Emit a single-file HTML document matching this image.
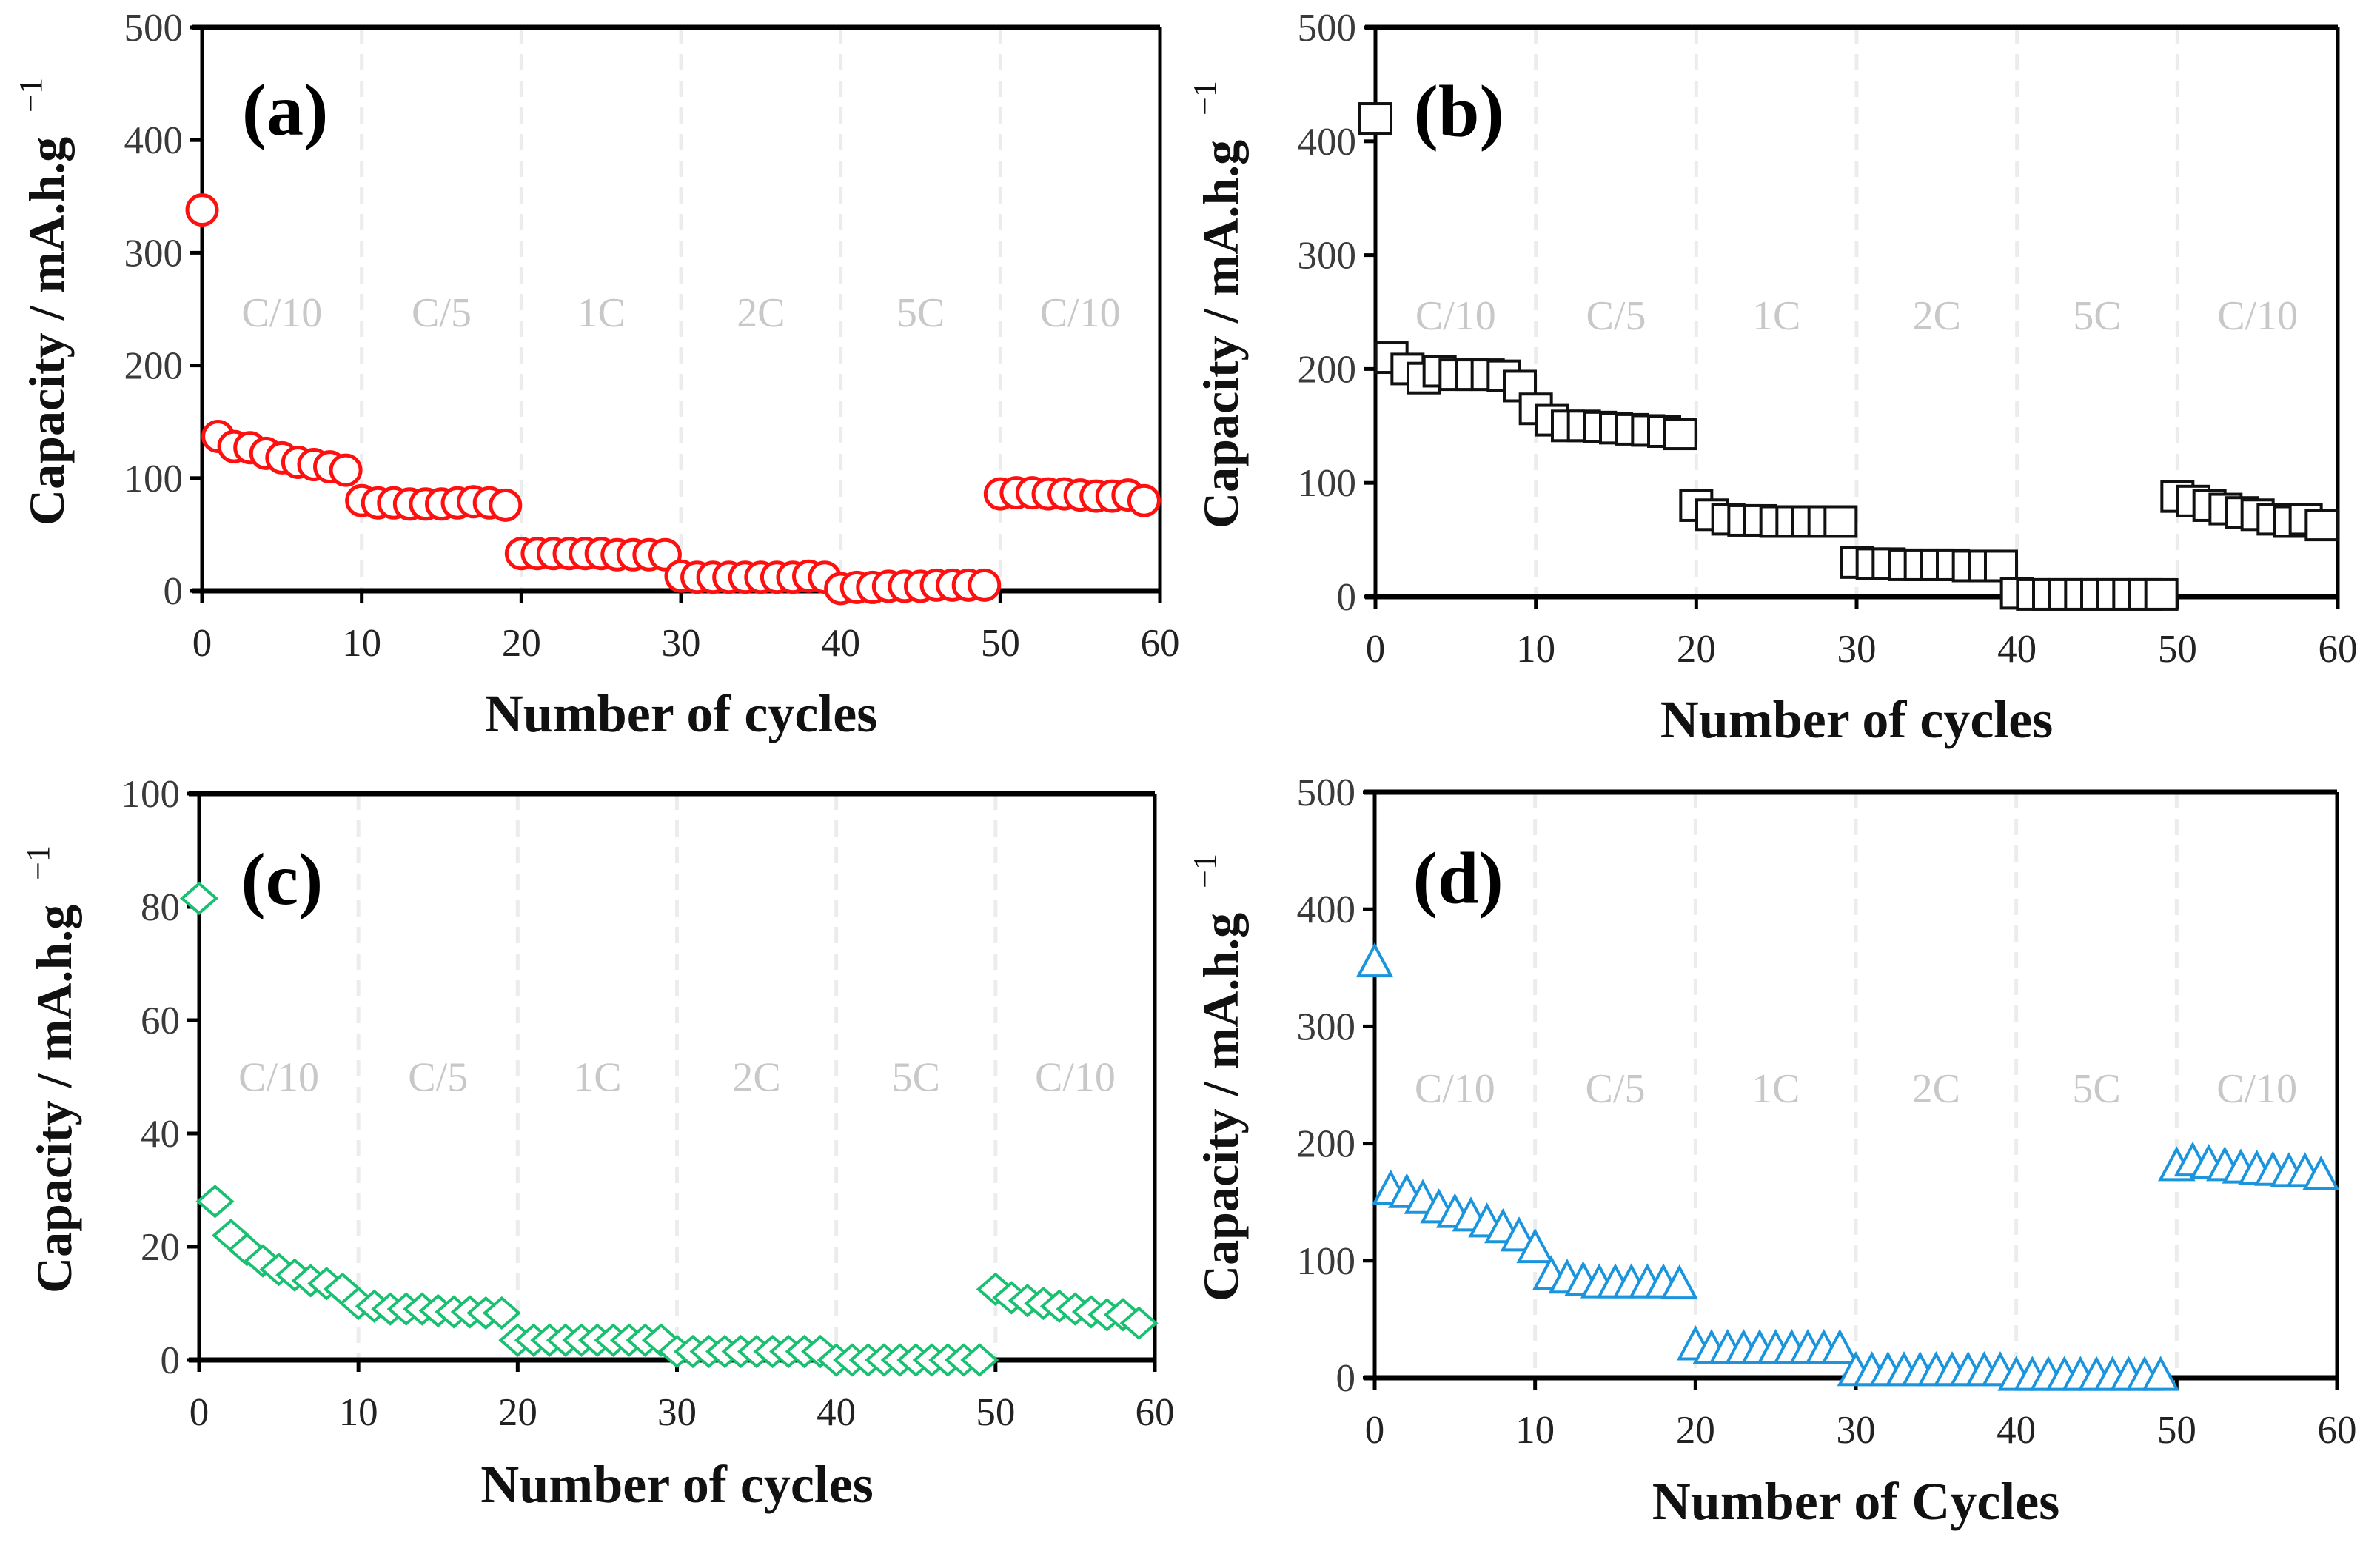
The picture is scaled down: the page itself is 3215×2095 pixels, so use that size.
<!DOCTYPE html>
<html><head><meta charset="utf-8">
<style>
html,body{margin:0;padding:0;background:#fff;}
svg{display:block;}
text{font-family:"Liberation Serif",serif;}
</style></head>
<body>
<svg id="fig" width="3215" height="2095" viewBox="0 0 3215 2095" xmlns="http://www.w3.org/2000/svg"></svg>
<script>
const cycles = [0,1,2,3,4,5,6,7,8,9,10,11,12,13,14,15,16,17,18,19,20,21,22,23,24,25,26,27,28,29,30,31,32,33,34,35,36,37,38,39,40,41,42,43,44,45,46,47,48,49,50,51,52,53,54,55,56,57,58,59];
const seriesA = [338,137,128,127,122,118,114,112,110,107, 80,78,78,77,77,77,78,79,78,76, 33,33,33,33,33,33,32,32,32,32, 13,12,12,12,12,12,12,12,13,12, 2,3,3,4,4,4,5,5,5,5, 86,87,87,86,86,85,84,84,85,80];
const seriesB = [420,210,200,192,198,195,195,195,194,185, 165,155,150,150,149,148,147,146,145,143, 80,72,68,67,67,66,66,66,66,66, 30,29,29,28,28,28,28,27,27,27, 3,2,2,2,2,2,2,2,2,2, 88,84,80,77,74,72,68,66,68,63];
const seriesC = [81.5,28,22,19.5,17.5,16,15,14,13.5,12.5, 10,9.5,9,9,9,8.7,8.5,8.5,8.3,8.3, 3.5,3.5,3.5,3.5,3.5,3.5,3.5,3.5,3.5,3.5, 1.5,1.5,1.5,1.5,1.5,1.5,1.5,1.5,1.5,1.5, 0,0,0,0,0,0,0,0,0,0, 12.5,11,10.5,10,9.5,9,8.5,8,8,6.5];
const seriesD = [352,158,155,150,142,138,135,130,125,118, 108,85,82,80,78,78,78,78,78,77, 25,22,22,22,22,22,22,22,22,22, 3,3,3,3,3,3,3,3,3,3, -1,-1,-1,-1,-1,-1,-1,-1,-1,-1, 178,182,180,178,176,175,174,173,173,170];
const xTicks = [0,10,20,30,40,50,60];
const yTicks500 = [0,100,200,300,400,500];
const yTicks100 = [0,20,40,60,80,100];
const rateLabels = ["C/10","C/5","1C","2C","5C","C/10"];
const rateCenters = [5,15,25,35,45,55];

const NS = "http://www.w3.org/2000/svg";
const svg = document.getElementById('fig');
function mk(tag, attrs, parent){
  const e = document.createElementNS(NS, tag);
  for (const k in attrs) e.setAttribute(k, attrs[k]);
  (parent||svg).appendChild(e);
  return e;
}

const panels = [
  {id:'a', data:seriesA, ymax:500, yt:yTicks500, x0:273, x1:1567, yTop:37, yBot:798, marker:'circle', color:'#ff1010', xt:'Number of cycles', titleX:62, xtY:964, labY:427, rateY:247},
  {id:'b', data:seriesB, ymax:500, yt:yTicks500, x0:1858, x1:3158, yTop:37, yBot:806, marker:'square', color:'#111111', xt:'Number of cycles', titleX:1648, xtY:972, labY:427, rateY:247},
  {id:'c', data:seriesC, ymax:100, yt:yTicks100, x0:269, x1:1560, yTop:1072, yBot:1837, marker:'diamond', color:'#18c070', xt:'Number of cycles', titleX:72, xtY:2005, labY:85, rateY:50},
  {id:'d', data:seriesD, ymax:500, yt:yTicks500, x0:1857, x1:3157, yTop:1070, yBot:1861, marker:'triangle', color:'#1a95dd', xt:'Number of Cycles', titleX:1648, xtY:2028, labY:427, rateY:247}
];

panels.forEach(p=>{
  const g = mk('g', {});
  
  
  const xs = v => p.x0 + (v/60)*(p.x1-p.x0);
  const ys = v => p.yBot - (v/p.ymax)*(p.yBot-p.yTop);

  [10,20,30,40,50].forEach(v=>{
    const l = mk('line',{x1:xs(v),x2:xs(v),y1:p.yTop,y2:p.yBot,stroke:'#ececec','stroke-width':5,'stroke-dasharray':'22,14'},g);
    
    
  });
  rateLabels.forEach((t,i)=>{
    const tx = mk('text',{x:xs(rateCenters[i]),y:ys(p.rateY)+19,'text-anchor':'middle','font-size':56,fill:'#c8c8c8'},g);
    tx.textContent = t;
    
    
  });
  const fr = mk('g',{},g);
  
  
  mk('line',{x1:p.x0-14,x2:p.x1,y1:p.yTop,y2:p.yTop,stroke:'#000','stroke-width':7},fr);
  mk('line',{x1:p.x0-14,x2:p.x1,y1:p.yBot,y2:p.yBot,stroke:'#000','stroke-width':7},fr);
  mk('line',{x1:p.x0,x2:p.x0,y1:p.yTop,y2:p.yBot+14,stroke:'#000','stroke-width':5},fr);
  mk('line',{x1:p.x1,x2:p.x1,y1:p.yTop,y2:p.yBot+14,stroke:'#000','stroke-width':5},fr);
  p.yt.forEach(v=>{
    mk('line',{x1:p.x0-16,x2:p.x0,y1:ys(v),y2:ys(v),stroke:'#000','stroke-width':5},g);
    const t = mk('text',{x:p.x0-26,y:ys(v)+18,'text-anchor':'end','font-size':53,fill:'#3a3a3a'},g);
    t.textContent = v;
    
    
  });
  xTicks.forEach(v=>{
    mk('line',{x1:xs(v),x2:xs(v),y1:p.yBot,y2:p.yBot+16,stroke:'#000','stroke-width':5},g);
    const t = mk('text',{x:xs(v),y:p.yBot+88,'text-anchor':'middle','font-size':53,fill:'#222'},g);
    t.textContent = v;
    
    
  });
  const xt = mk('text',{x:(p.x0+p.x1)/2,y:p.xtY+24,'text-anchor':'middle','font-size':72,'font-weight':'bold',fill:'#111'},g);
  xt.textContent = p.xt;
  
  
  const cy = (p.yTop+p.yBot)/2 - 10;
  const yt = mk('text',{x:0,y:0,'text-anchor':'middle','font-size':68,'font-weight':'bold',fill:'#111',transform:`translate(${p.titleX+24},${cy}) rotate(-90)`},g);
  
  
  const s1 = mk('tspan',{},yt); s1.textContent = 'Capacity / mA.h.g ';
  const s2 = mk('tspan',{'font-size':44,'font-weight':'normal',dy:-30,dx:16}, yt); s2.textContent = '\u22121';
  const pl = mk('text',{x:xs(5.2),y:ys(p.labY)+34,'text-anchor':'middle','font-size':100,'font-weight':'bold',fill:'#000'},g);
  pl.textContent = '('+p.id+')';
  
  
  const mg = mk('g',{fill:'#fff',stroke:p.color,'stroke-width':5},g);
  
  
  cycles.forEach((c,i)=>{
    const x = xs(c), y = ys(p.data[i]);
    let m;
    if (p.marker==='circle') m = mk('circle',{cx:x,cy:y,r:20},mg);
    else if (p.marker==='square') m = mk('rect',{x:x-21,y:y-20,width:42,height:40,'stroke-width':4},mg);
    else if (p.marker==='diamond') m = mk('polygon',{points:`${x},${y-20} ${x+23},${y} ${x},${y+20} ${x-23},${y}`,'stroke-width':4},mg);
    else m = mk('polygon',{points:`${x},${y-27} ${x+22},${y+14} ${x-22},${y+14}`,'stroke-width':4},mg);
    
    
  });
});
</script>
</body></html>
